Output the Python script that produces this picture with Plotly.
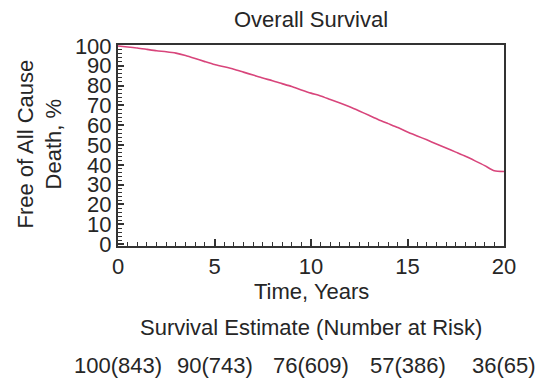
import plotly.graph_objects as go

years = [0, 0.5, 1, 1.5, 2, 2.5, 3, 3.5, 4, 4.5, 5, 5.5, 6, 6.5, 7, 7.5, 8, 8.5, 9, 9.5,
         10, 10.5, 11, 11.5, 12, 12.5, 13, 13.5, 14, 14.5, 15, 15.5, 16, 16.5, 17, 17.5,
         18, 18.5, 19, 19.5, 20]
survival = [100, 99.5, 99, 98.3, 97.6, 97.1, 96.4, 95.2, 93.7, 92.1, 90.6, 89.5, 88.3, 86.8,
            85.3, 83.8, 82.5, 81.0, 79.5, 77.8, 76.2, 74.8, 73.0, 71.2, 69.3, 67.2, 65.0,
            62.8, 60.8, 58.8, 56.6, 54.6, 52.6, 50.5, 48.5, 46.4, 44.3, 42.0, 39.6, 37.0, 36.6]

risk_years = [0, 5, 10, 15, 20]
risk_labels = ["100(843)", "90(743)", "76(609)", "57(386)", "36(65)"]

FONT = "Liberation Sans"
TXT = "#262626"
AX = "#333333"

fig = go.Figure()
fig.add_trace(go.Scatter(x=years, y=survival, mode="lines", line_shape="spline",
                         line=dict(color="#d8457b", width=1.6, smoothing=0.6), showlegend=False))

fig.update_layout(
    width=536, height=382,
    margin=dict(l=118, r=32, t=45, b=136),
    paper_bgcolor="white", plot_bgcolor="white",
    font=dict(family=FONT, size=22, color=TXT),
)

fig.update_xaxes(
    range=[0, 20], tickvals=[0, 5, 10, 15, 20], ticks="inside", ticklen=7, tickwidth=1.5,
    tickcolor=AX, showline=True, linecolor=AX, linewidth=2, mirror=True, showgrid=False,
    zeroline=False, tickfont=dict(size=22, color=TXT),
    minor=dict(dtick=0.5, ticks="inside", ticklen=4, tickwidth=1.2, tickcolor=AX, showgrid=False),
)
fig.update_yaxes(
    range=[-1, 100.5], tickvals=list(range(0, 101, 10)), ticks="inside", ticklen=6, tickwidth=1.5,
    tickcolor=AX, showline=True, linecolor=AX, linewidth=2, mirror=True, showgrid=False,
    zeroline=False, tickfont=dict(size=22, color=TXT),
    minor=dict(dtick=2, ticks="inside", ticklen=4, tickwidth=1.2, tickcolor=AX, showgrid=False),
)

# Title
fig.add_annotation(text="Overall Survival", xref="paper", yref="paper", x=0.5, y=1,
                   yshift=26, yanchor="middle", showarrow=False, font=dict(size=22, color=TXT))
# Y title
fig.add_annotation(text="Free of All Cause<br>Death, %", xref="paper", yref="paper",
                   x=0, xshift=-79, y=0.5, yshift=1, textangle=-90, xanchor="center",
                   yanchor="middle", showarrow=False, font=dict(size=22, color=TXT))
# X title
fig.add_annotation(text="Time, Years", xref="paper", yref="paper", x=0.5, y=0,
                   yshift=-45, yanchor="middle", showarrow=False, font=dict(size=22, color=TXT))
fig.add_annotation(text="Survival Estimate (Number at Risk)", xref="paper", yref="paper",
                   x=0.5, y=0, yshift=-81, yanchor="middle", showarrow=False,
                   font=dict(size=22, color=TXT))
for xv, lab in zip(risk_years, risk_labels):
    fig.add_annotation(text=lab, xref="x", yref="paper", x=xv, y=0, yshift=-119,
                       yanchor="middle", xanchor="center", showarrow=False,
                       font=dict(size=22, color=TXT))

fig.write_html("out.html")
